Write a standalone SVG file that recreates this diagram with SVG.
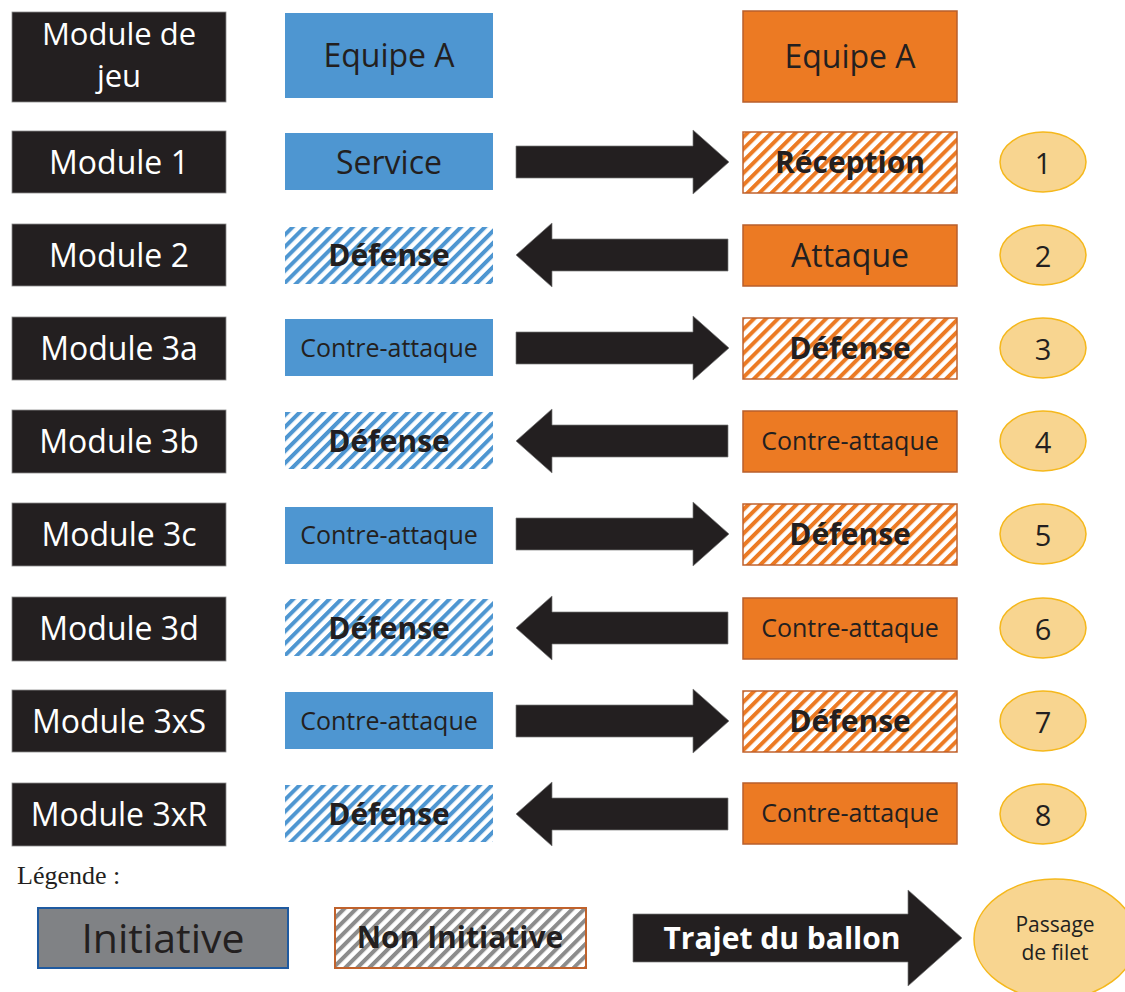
<svg xmlns="http://www.w3.org/2000/svg" width="1125" height="992" viewBox="0 0 1125 992">
<style>
.blk{fill:#231F20;stroke:#8a8a8a;stroke-width:0.8}
.blu{fill:#4E96D1}
.org{fill:#EC7A23;stroke:#B85F2C;stroke-width:1.5}
.hb{fill:url(#hatchBlue)}
.ho{fill:url(#hatchOrange);stroke:#C0622C;stroke-width:1.5}
.num{fill:#F8D590;stroke:#F5B81C;stroke-width:1.5}
.arr{fill:#231F20;stroke:#7a7a7a;stroke-width:0.7}
text{font-family:"Open Sans","Noto Sans","DejaVu Sans",sans-serif;text-anchor:middle;fill:#231F20}
.w{fill:#FFFFFF;font-size:32px}
.t32{font-size:32px}
.t25{font-size:25px}
.b30{font-size:30px;font-weight:bold}
.n{font-size:29px}
</style>
<defs>
<pattern id="hatchBlue" patternUnits="userSpaceOnUse" width="8.5" height="8.5" patternTransform="rotate(45)">
<rect x="0" y="0" width="8.5" height="8.5" fill="#FFFFFF"/>
<rect x="0" y="0" width="4" height="8.5" fill="#4E96D1"/>
</pattern>
<pattern id="hatchOrange" patternUnits="userSpaceOnUse" width="8.5" height="8.5" patternTransform="rotate(45)">
<rect x="0" y="0" width="8.5" height="8.5" fill="#FFFFFF"/>
<rect x="0" y="0" width="4" height="8.5" fill="#EC7A23"/>
</pattern>
<pattern id="hatchGray" patternUnits="userSpaceOnUse" width="8.5" height="8.5" patternTransform="rotate(45)">
<rect x="0" y="0" width="8.5" height="8.5" fill="#FFFFFF"/>
<rect x="0" y="0" width="4" height="8.5" fill="#8C8C8C"/>
</pattern>
</defs>
<rect width="1125" height="992" fill="#FFFFFF"/>

<!-- Header -->
<g id="hdr-module"><rect class="blk" x="12" y="12" width="214" height="90"/><text class="w" x="119" y="45" style="font-size:31px">Module de</text><text class="w" x="119" y="87" style="font-size:31px">jeu</text></g>
<g id="hdr-equipeA-blue"><rect class="blu" x="285" y="13" width="208" height="85"/><text class="t32" x="389" y="67">Equipe A</text></g>
<g id="hdr-equipeA-orange"><rect class="org" x="743" y="11" width="214" height="91"/><text class="t32" x="850" y="68">Equipe A</text></g>

<!-- Row 1 -->
<g id="m1"><rect class="blk" x="12" y="131" width="214" height="62"/><text class="w" x="119" y="174">Module 1</text></g>
<g id="a1"><rect class="blu" x="285" y="133" width="208" height="57"/><text class="t32" x="389" y="174">Service</text></g>
<g id="b1"><rect class="ho" x="743" y="132" width="214" height="61"/><text class="b30" x="850" y="173">Réception</text></g>
<g id="n1"><ellipse class="num" cx="1043" cy="162" rx="43" ry="30"/><text class="n" x="1043" y="174">1</text></g>

<!-- Row 2 -->
<g id="m2"><rect class="blk" x="12" y="224" width="214" height="62"/><text class="w" x="119" y="267">Module 2</text></g>
<g id="a2"><rect class="hb" x="285" y="227" width="208" height="57"/><text class="b30" x="389" y="266">Défense</text></g>
<g id="b2"><rect class="org" x="743" y="225" width="214" height="61"/><text class="t32" x="850" y="267">Attaque</text></g>
<g id="n2"><ellipse class="num" cx="1043" cy="255" rx="43" ry="30"/><text class="n" x="1043" y="267">2</text></g>

<!-- Row 3a -->
<g id="m3a"><rect class="blk" x="12" y="317" width="214" height="63"/><text class="w" x="119" y="360">Module 3a</text></g>
<g id="a3"><rect class="blu" x="285" y="319" width="208" height="57"/><text class="t25" x="389" y="357">Contre-attaque</text></g>
<g id="b3"><rect class="ho" x="743" y="318" width="214" height="61"/><text class="b30" x="850" y="359">Défense</text></g>
<g id="n3"><ellipse class="num" cx="1043" cy="348" rx="43" ry="30"/><text class="n" x="1043" y="360">3</text></g>

<!-- Row 3b -->
<g id="m3b"><rect class="blk" x="12" y="410" width="214" height="63"/><text class="w" x="119" y="453">Module 3b</text></g>
<g id="a4"><rect class="hb" x="285" y="412" width="208" height="57"/><text class="b30" x="389" y="452">Défense</text></g>
<g id="b4"><rect class="org" x="743" y="411" width="214" height="61"/><text class="t25" x="850" y="450">Contre-attaque</text></g>
<g id="n4"><ellipse class="num" cx="1043" cy="441" rx="43" ry="30"/><text class="n" x="1043" y="453">4</text></g>

<!-- Row 3c -->
<g id="m3c"><rect class="blk" x="12" y="503" width="214" height="63"/><text class="w" x="119" y="546">Module 3c</text></g>
<g id="a5"><rect class="blu" x="285" y="507" width="208" height="57"/><text class="t25" x="389" y="544">Contre-attaque</text></g>
<g id="b5"><rect class="ho" x="743" y="504" width="214" height="61"/><text class="b30" x="850" y="545">Défense</text></g>
<g id="n5"><ellipse class="num" cx="1043" cy="534" rx="43" ry="30"/><text class="n" x="1043" y="546">5</text></g>

<!-- Row 3d -->
<g id="m3d"><rect class="blk" x="12" y="597" width="214" height="64"/><text class="w" x="119" y="640">Module 3d</text></g>
<g id="a6"><rect class="hb" x="285" y="599" width="208" height="57"/><text class="b30" x="389" y="639">Défense</text></g>
<g id="b6"><rect class="org" x="743" y="598" width="214" height="61"/><text class="t25" x="850" y="637">Contre-attaque</text></g>
<g id="n6"><ellipse class="num" cx="1043" cy="628" rx="43" ry="30"/><text class="n" x="1043" y="640">6</text></g>

<!-- Row 3xS -->
<g id="m3xS"><rect class="blk" x="12" y="690" width="214" height="62"/><text class="w" x="119" y="733">Module 3xS</text></g>
<g id="a7"><rect class="blu" x="285" y="692" width="208" height="57"/><text class="t25" x="389" y="730">Contre-attaque</text></g>
<g id="b7"><rect class="ho" x="743" y="691" width="214" height="61"/><text class="b30" x="850" y="732">Défense</text></g>
<g id="n7"><ellipse class="num" cx="1043" cy="721" rx="43" ry="30"/><text class="n" x="1043" y="733">7</text></g>

<!-- Row 3xR -->
<g id="m3xR"><rect class="blk" x="12" y="783" width="214" height="63"/><text class="w" x="119" y="826">Module 3xR</text></g>
<g id="a8"><rect class="hb" x="285" y="785" width="208" height="57"/><text class="b30" x="389" y="825">Défense</text></g>
<g id="b8"><rect class="org" x="743" y="783" width="214" height="61"/><text class="t25" x="850" y="822">Contre-attaque</text></g>
<g id="n8"><ellipse class="num" cx="1043" cy="814" rx="43" ry="30"/><text class="n" x="1043" y="826">8</text></g>

<!-- Connectors -->
<g id="connectors">
<path class="arr" d="M516,146 H693 V130 L729,162 L693,194 V178 H516 Z"/>
<path class="arr" d="M728,239 H552 V223 L516,255 L552,287 V271 H728 Z"/>
<path class="arr" d="M516,332 H693 V316 L729,348 L693,380 V364 H516 Z"/>
<path class="arr" d="M728,425 H552 V409 L516,441 L552,473 V457 H728 Z"/>
<path class="arr" d="M516,518 H693 V502 L729,534 L693,566 V550 H516 Z"/>
<path class="arr" d="M728,612 H552 V596 L516,628 L552,660 V644 H728 Z"/>
<path class="arr" d="M516,705 H693 V689 L729,721 L693,753 V737 H516 Z"/>
<path class="arr" d="M728,798 H552 V782 L516,814 L552,846 V830 H728 Z"/>
</g>

<!-- Legend -->
<g id="legend">
<text x="17" y="884" style="font-family:'Liberation Serif','Times New Roman',serif;font-size:26px;text-anchor:start;fill:#231F20">Légende :</text>
<g id="leg-initiative"><rect x="38" y="908" width="250" height="60" fill="#808285" stroke="#1F5AA0" stroke-width="2"/><text x="163" y="953" style="font-size:41px">Initiative</text></g>
<g id="leg-non-initiative"><rect x="335" y="908" width="251" height="60" fill="url(#hatchGray)" stroke="#C0622C" stroke-width="2"/><text class="b30" x="460" y="948">Non Initiative</text></g>
<g id="leg-trajet"><path class="arr" d="M633,914 H908 V890 L962,938 L908,986 V962 H633 Z"/><text x="782" y="949" style="font-size:30px;font-weight:bold;fill:#FFFFFF">Trajet du ballon</text></g>
<g id="leg-passage"><ellipse class="num" cx="1055" cy="939" rx="81" ry="60"/><text x="1055" y="932" style="font-size:21px">Passage</text><text x="1055" y="960" style="font-size:21px">de filet</text></g>
</g>
</svg>
